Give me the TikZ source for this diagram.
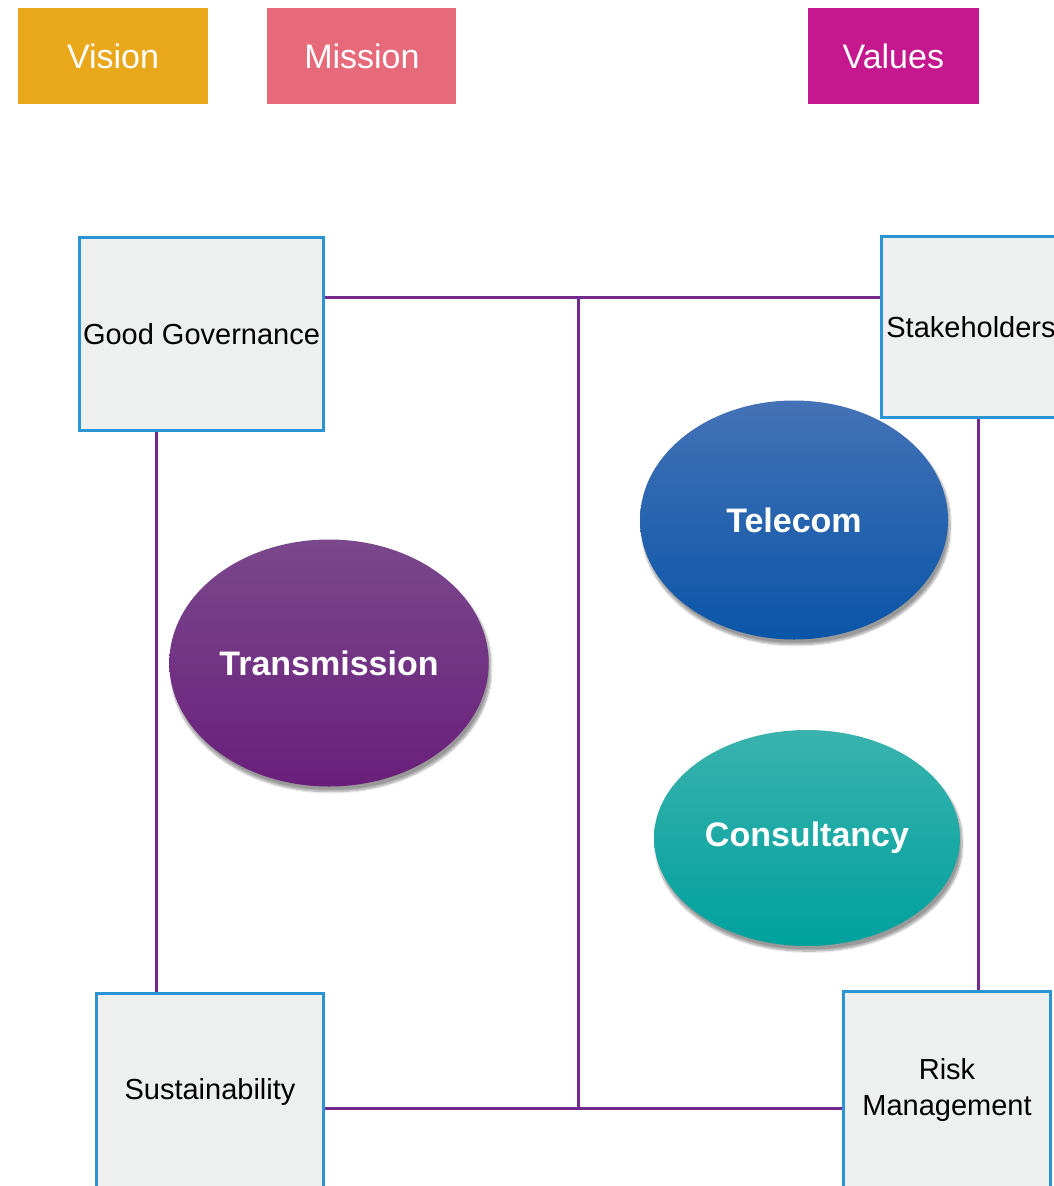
\documentclass[tikz,border=0pt]{standalone}
\usepackage{fontspec}
\setmainfont{Liberation Sans}
\usetikzlibrary{positioning, shapes.geometric, shadows.blur}
\definecolor{visionc}{HTML}{E9A81C}
\definecolor{missionc}{HTML}{E76A7A}
\definecolor{valuesc}{HTML}{C5178E}
\definecolor{boxblue}{HTML}{2A94D4}
\definecolor{boxgrey}{HTML}{EEF0EF}
\definecolor{linkc}{HTML}{732A8D}
\tikzstyle{tag}=[rectangle, minimum height=96pt, text=white, font=\fontsize{34}{40}\selectfont]
\tikzstyle{pillar}=[rectangle, draw=boxblue, fill=boxgrey, line width=3pt, align=center, font=\fontsize{29}{36}\selectfont]
\tikzstyle{unit}=[ellipse, text=white, font=\bfseries\fontsize{34}{40}\selectfont,
  blur shadow={shadow xshift=2pt, shadow yshift=-5pt, shadow blur steps=10, shadow blur extra rounding=4pt}]
\tikzstyle{link}=[draw=linkc, line width=3pt]

\begin{document}
\begin{tikzpicture}[x=1pt, y=-1pt, node distance=59pt]
    \useasboundingbox (0,0) rectangle (1053,1186);

    % header tags
    \node[tag, fill=visionc, minimum width=190pt] (vision) at (113,56) {Vision};
    \node[tag, fill=missionc, minimum width=189pt] (mission) [right=of vision] {Mission};
    \node[tag, fill=valuesc, minimum width=171pt] (values) [right=351pt of mission] {Values};

    % corner boxes
    \node[pillar, minimum width=244pt, minimum height=193pt] (gov) at (201.5,334) {Good Governance};
    \node[pillar, minimum width=180pt, minimum height=181pt] (stake) at (971,327) {Stakeholders};
    \node[pillar, minimum width=227pt, minimum height=197pt] (sust) at (210,1092) {Sustainability};
    \node[pillar, minimum width=207pt, minimum height=197pt] (risk) at (947,1090) {Risk\\Management};

    % business units
    \node[unit, minimum width=312pt, minimum height=247pt, top color={rgb,255:red,122;green,72;blue,140}, bottom color={rgb,255:red,106;green,31;blue,123}] (trans) at (329,663) {Transmission};
    \node[unit, minimum width=308pt, minimum height=239pt, top color={rgb,255:red,68;green,114;blue,182}, bottom color={rgb,255:red,10;green,85;blue,168}] (tele) at (794,520) {Telecom};
    \node[unit, minimum width=306pt, minimum height=216pt, top color={rgb,255:red,58;green,178;blue,173}, bottom color={rgb,255:red,0;green,161;blue,158}] (cons) at (807,838) {Consultancy};

    % links
    \coordinate (top) at (578,297);
    \coordinate (bot) at (578,1108);
    \draw[link] (gov.east |- top) -- (top) -- (stake.west |- top);
    \draw[link] (top) -- (bot);
    \draw[link] (sust.east |- bot) -- (bot) -- (risk.west |- bot);
    \draw[link] ([xshift=-45.5pt]gov.south) -- ([xshift=-45.5pt]gov.south |- sust.north);
    \draw[link] ([xshift=7pt]stake.south) -- ([xshift=7pt]stake.south |- risk.north);
\end{tikzpicture}
\end{document}
